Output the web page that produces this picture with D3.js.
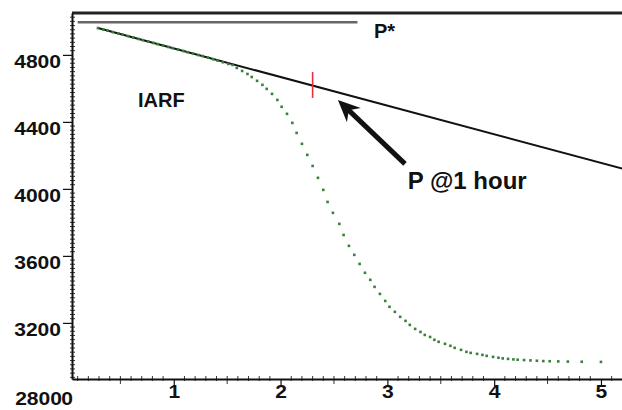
<!DOCTYPE html>
<html>
<head>
<meta charset="utf-8">
<script src="https://cdn.jsdelivr.net/npm/d3@7"></script>
<style>
body { margin: 0; background: #fff; }
svg text { font-family: "Liberation Sans", Arial, sans-serif; font-weight: bold; fill: #111; }
</style>
</head>
<body>
<svg width="622" height="410"></svg>
<script>
// axis extents and tick labels
var xExtent = [0.047, 5.197];
var yExtent = [2865, 5050];
var xTicks = [1, 2, 3, 4, 5];
var yTicks = [3200, 3600, 4000, 4400, 4800];

// pressure response (dotted green)
var timeVals = [0.29,0.34,0.38,0.43,0.48,0.52,0.57,0.62,0.67,0.71,0.76,0.81,0.85,0.90,0.95,0.99,1.04,1.09,1.13,1.18,1.23,1.27,1.32,1.37,1.41,1.46,1.51,
	1.55,1.59,1.64,1.69,1.73,1.78,1.83,1.87,1.92,1.97,
	2.01,2.06,2.11,2.15,2.20,2.25,2.30,2.35,2.40,2.44,2.49,2.55,2.59,2.64,2.69,2.74,2.79,2.84,2.88,2.93,2.98,3.02,3.07,3.12,3.17,3.21,3.26,3.31,3.35,3.40,
	3.44,3.48,3.54,3.59,3.63,3.69,3.74,3.78,3.84,3.89,3.93,3.99,4.04,4.08,4.13,4.18,4.22,4.28,4.34,4.40,4.46,4.52,4.60,4.69,4.82,5.00];
var presVals = [4960,4951,4945,4936,4928,4921,4912,4904,4895,4888,4880,4871,4864,4856,4847,4840,4832,4823,4816,4808,4799,4793,4784,4774,4766,4756,4746,
	4740,4722,4704,4686,4668,4645,4621,4597,4567,4531,
	4490,4448,4394,4334,4269,4203,4137,4066,3994,3922,3857,3791,3725,3660,3606,3552,3499,3457,3415,3373,3331,3296,3266,3236,3212,3188,3164,3146,3128,3116,
	3099,3087,3075,3063,3051,3039,3027,3021,3015,3009,3003,2997,2992,2988,2985,2982,2980,2978,2976,2974,2972,2971,2970,2969,2968,2967];

// IARF straight line, P* level, 1 hour marker, arrow
var iarfT = [0.29, 5.2];
var iarfP = [4960, 4121];
var pStarT = [0.10, 2.72];
var pStarP = 4995;
var hourT = 2.30;
var hourP = [4543, 4698];
var arrowFrom = [3.165, 4149];
var arrowTo = [2.537, 4531];

(function() {
	var svg = d3.select("svg");
	var m = { left: 72, right: 622, top: 13, bottom: 379 };

	var x = d3.scaleLinear().domain(xExtent).range([m.left, m.right]);
	var y = d3.scaleLinear().domain(yExtent).range([m.bottom, m.top]);

	svg.append("rect").attr("width", 622).attr("height", 410).attr("fill", "#fff");

	// top frame line
	svg.append("line")
		.attr("x1", m.left).attr("x2", m.right).attr("y1", m.top).attr("y2", m.top)
		.attr("stroke", "#222").attr("stroke-width", 3);

	// minor ticks
	var yMinor = d3.range(2875, 5050, 25).filter(function(v) { return v % 400 != 0; });
	svg.append("g").selectAll("line").data(yMinor).enter().append("line")
		.attr("x1", m.left - 2).attr("x2", m.left + 3)
		.attr("y1", function(d) { return y(d); }).attr("y2", function(d) { return y(d); })
		.attr("stroke", "#333").attr("stroke-width", 1);

	var xMinor = d3.range(1, 52).map(function(i) { return i / 10; })
		.filter(function(v) { return Math.abs(v - Math.round(v)) > 0.01; });
	svg.append("g").selectAll("line").data(xMinor).enter().append("line")
		.attr("x1", function(d) { return x(d); }).attr("x2", function(d) { return x(d); })
		.attr("y1", m.bottom - 3)
		.attr("y2", function(d) { return Math.abs(Math.round(d * 10) % 10 - 5) == 0 ? m.bottom + 5 : m.bottom + 2; })
		.attr("stroke", "#333").attr("stroke-width", 1);

	// axes
	var stretch = 1.17;
	var gy = svg.append("g")
		.attr("transform", "translate(" + m.left + ",0)")
		.call(d3.axisLeft(y).tickValues(yTicks).tickSize(9).tickSizeOuter(0).tickFormat(d3.format("d")));
	gy.select(".domain").attr("stroke", "#111").attr("stroke-width", 2);
	gy.selectAll(".tick line").attr("stroke", "#111").attr("stroke-width", 1.2);
	gy.selectAll(".tick text")
		.attr("x", -11 / stretch).attr("dy", null).attr("y", 13)
		.attr("transform", "scale(" + stretch + ",1)")
		.attr("fill", "#111")
		.style("font-size", "18px");

	var gx = svg.append("g")
		.attr("transform", "translate(0," + m.bottom + ")")
		.call(d3.axisBottom(x).tickValues(xTicks).tickSize(7).tickSizeOuter(0).tickFormat(d3.format("d")));
	gx.select(".domain").attr("stroke", "#111").attr("stroke-width", 2);
	gx.selectAll(".tick line").attr("stroke", "#111").attr("stroke-width", 1.2);
	gx.selectAll(".tick text")
		.attr("dy", null).attr("y", 19)
		.attr("transform", "scale(" + stretch + ",1)")
		.attr("fill", "#111")
		.style("font-size", "18px");

	// corner labels (origin)
	svg.append("text")
		.attr("transform", "translate(" + x(0) + ",405) scale(" + stretch + ",1)")
		.attr("text-anchor", "middle").style("font-size", "18px").text("0");
	svg.append("text")
		.attr("transform", "translate(" + (m.left - 10) + ",405) scale(" + stretch + ",1)")
		.attr("text-anchor", "end").style("font-size", "18px").text("2800");

	// P* line
	svg.append("line")
		.attr("x1", x(pStarT[0])).attr("x2", x(pStarT[1]))
		.attr("y1", y(pStarP)).attr("y2", y(pStarP))
		.attr("stroke", "#666").attr("stroke-width", 2.5);

	// IARF straight line
	svg.append("line")
		.attr("x1", x(iarfT[0])).attr("y1", y(iarfP[0]))
		.attr("x2", x(iarfT[1])).attr("y2", y(iarfP[1]))
		.attr("stroke", "#111").attr("stroke-width", 2);

	// dotted pressure data
	svg.append("g").selectAll("rect")
		.data(timeVals).enter().append("rect")
		.attr("x", function(d) { return x(d) - 1.3; })
		.attr("y", function(d, i) { return y(presVals[i]) - 1.3; })
		.attr("width", 2.6).attr("height", 2.6)
		.attr("fill", "#3a7f3a");

	// 1 hour marker
	svg.append("line")
		.attr("x1", x(hourT)).attr("x2", x(hourT))
		.attr("y1", y(hourP[0])).attr("y2", y(hourP[1]))
		.attr("stroke", "#e8303a").attr("stroke-width", 1.6);

	// arrow
	var ax0 = x(arrowFrom[0]), ay0 = y(arrowFrom[1]);
	var ax1 = x(arrowTo[0]), ay1 = y(arrowTo[1]);
	var len = Math.sqrt((ax1 - ax0) * (ax1 - ax0) + (ay1 - ay0) * (ay1 - ay0));
	var ux = (ax1 - ax0) / len, uy = (ay1 - ay0) / len;
	var nx = -uy, ny = ux;
	svg.append("line")
		.attr("x1", ax0).attr("y1", ay0)
		.attr("x2", ax1 - 14 * ux).attr("y2", ay1 - 14 * uy)
		.attr("stroke", "#111").attr("stroke-width", 5);
	var head = [
		[ax1, ay1],
		[ax1 - 22 * ux + 10 * nx, ay1 - 22 * uy + 10 * ny],
		[ax1 - 15 * ux, ay1 - 15 * uy],
		[ax1 - 22 * ux - 10 * nx, ay1 - 22 * uy - 10 * ny]
	];
	svg.append("path")
		.attr("d", "M" + head.map(function(p) { return p.join(","); }).join("L") + "Z")
		.attr("fill", "#111");

	// annotations
	svg.append("text").attr("x", x(0.665)).attr("y", y(4490)).style("font-size", "20px").text("IARF");
	svg.append("text").attr("x", x(2.875)).attr("y", y(4901)).style("font-size", "20px").text("P*");
	svg.append("text").attr("x", x(3.19)).attr("y", y(4000)).style("font-size", "24px").text("P @1 hour");
})();
</script>
</body>
</html>
